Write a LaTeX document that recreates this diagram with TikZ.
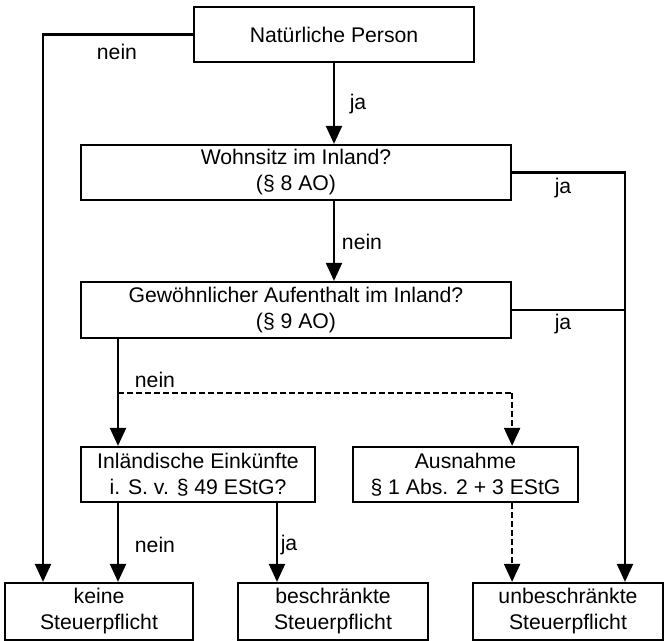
\documentclass[tikz,border=0pt]{standalone}
\usepackage{fontspec}
\setmainfont{Liberation Sans}
\usetikzlibrary{arrows.meta}

\tikzset{
  box/.style={draw=black, line width=1.1pt, align=center, inner sep=0pt,
    font=\fontsize{10.6}{13}\selectfont},
  lbl/.style={font=\fontsize{10.6}{13}\selectfont},
  arr/.style={line width=1.1pt, -{Triangle[width=8pt,length=9pt]}},
  ln/.style={line width=1.1pt},
  dsh/.style={dash pattern=on 3pt off 1.5pt}
}

\begin{document}
\begin{tikzpicture}[x=0.5pt, y=-0.5pt]
\useasboundingbox (0,0) rectangle (664,641);

\node[box, minimum width=140pt, minimum height=27.5pt] (nat) at (334,34.5) {Natürliche Person};
\node[box, minimum width=215pt, minimum height=27.5pt] (wohn) at (296,172.5) {Wohnsitz im Inland?\\(§ 8 AO)};
\node[box, minimum width=215pt, minimum height=28pt] (gew) at (296,310) {Gewöhnlicher Aufenthalt im Inland?\\(§ 9 AO)};
\node[box, minimum width=117pt, minimum height=27.5pt] (inl) at (198,474.5) {Inländische Einkünfte\\i. S. v. § 49 EStG?};
\node[box, minimum width=112.5pt, minimum height=27.5pt] (aus) at (465.5,474.5) {Ausnahme\\§ 1 Abs. 2 + 3 EStG};
\node[box, minimum width=94pt, minimum height=28.5pt] (keine) at (99,611.5) {keine\\Steuerpflicht};
\node[box, minimum width=95pt, minimum height=28.5pt] (besch) at (333,611.5) {beschränkte\\Steuerpflicht};
\node[box, minimum width=95pt, minimum height=28.5pt] (unbesch) at (568,611.5) {unbeschränkte\\Steuerpflicht};

% free ends of the lines
\coordinate (lline) at (43,34.5);
\coordinate (rline) at (625,172.5);
\coordinate (midL) at (118,393);
\coordinate (jaB) at (277,502);

\draw[arr] (nat.south) -- (nat.south |- wohn.north);
\draw[arr] (wohn.south -| nat.south) -- (gew.north -| nat.south);
\draw[arr] (nat.west) -- (lline) -- (lline |- keine.north);
\draw[arr] (wohn.east) -- (rline) -- (rline |- unbesch.north);
\draw[ln] (gew.east) -- (rline |- gew.east);
\draw[arr] (gew.south -| midL) -- (inl.north -| midL);
\draw[ln, dsh] (midL) -- (midL -| gew.east);
\draw[arr, dsh] (midL -| gew.east) -- (aus.north -| gew.east);
\draw[arr, dsh] (aus.south -| gew.east) -- (unbesch.north -| gew.east);
\draw[arr] (inl.south -| midL) -- (keine.north -| midL);
\draw[arr] (jaB) -- (jaB |- besch.north);

\node[lbl] (n1) at (117,52) {nein};
\node[lbl] (j1) at (358,104) {ja};
\node[lbl] (j2) at (563,188) {ja};
\node[lbl] (n2) at (362,242) {nein};
\node[lbl] (j3) at (563,324) {ja};
\node[lbl] (n3) at (155,380) {nein};
\node[lbl] (n4) at (155,545) {nein};
\node[lbl] (j4) at (289,545) {ja};
\end{tikzpicture}
\end{document}
